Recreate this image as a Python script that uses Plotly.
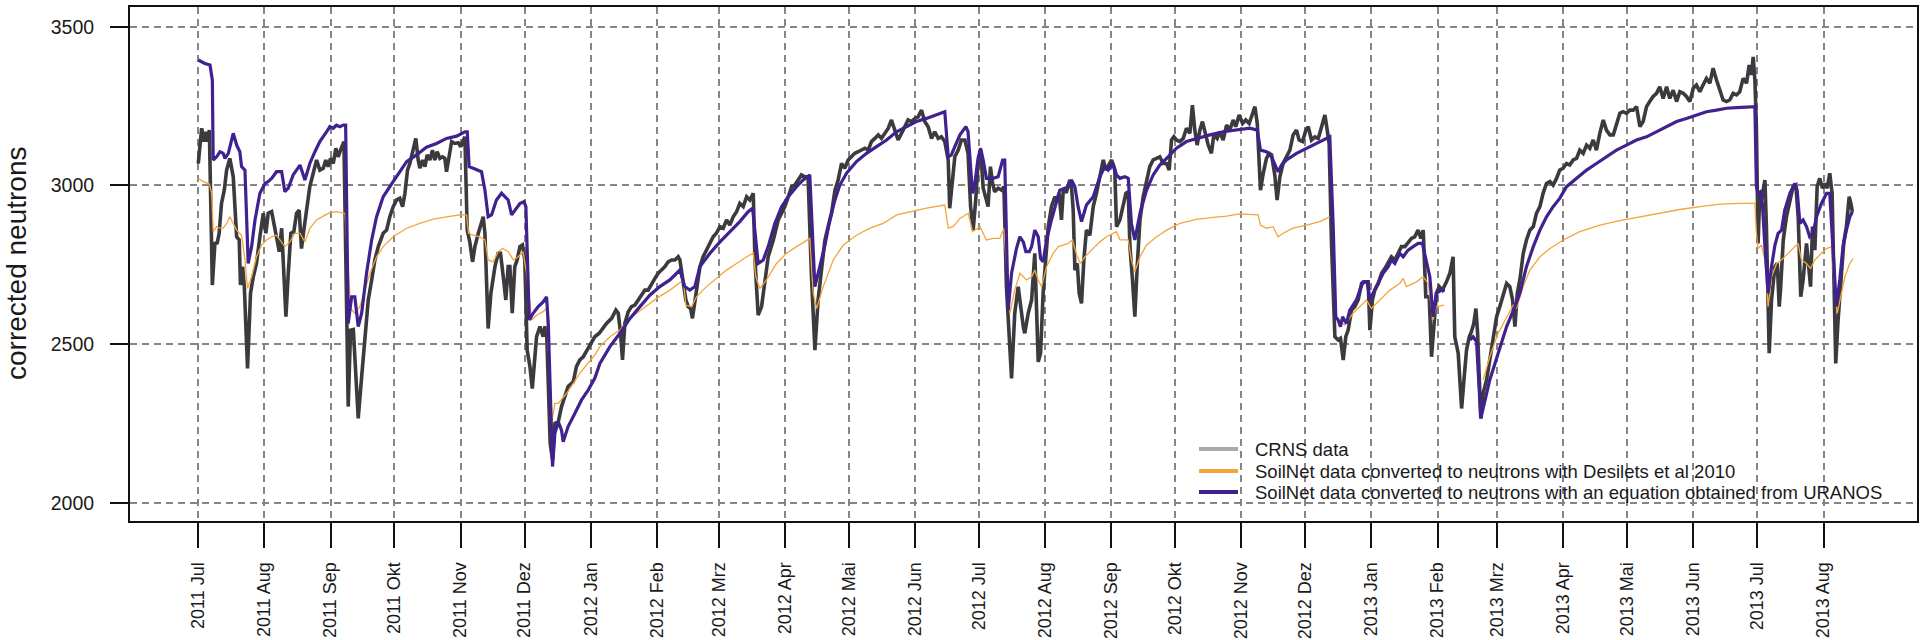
import pandas as pd
import plotly.graph_objects as go

START = pd.Timestamp("2011-07-01")

# ---- data: days since 2011-07-01 ----
crns_days = [0, 1.6, 2.7, 3.6, 4.4, 5.2, 6.6, 7.8, 8.9, 9.8, 10.9, 12.2, 13.3, 14.8, 16.4, 18.0, 19.2, 19.8, 20.8, 21.6,
             23.1, 24.5, 25.8, 27.3, 28.9, 30.5, 31.7, 32.8, 34.4, 35.6, 36.7, 38.0, 39.1, 41.1, 42.2, 43.4, 44.8, 46.1,
             47.3, 48.4, 49.5, 50.8, 52.3, 53.9, 55.5, 57.0, 58.6, 59.8, 60.9, 62.0, 63.3, 64.5, 65.6, 66.7, 67.7, 68.3,
             70.3, 71.4, 72.7, 73.9, 75.0, 76.6, 78.1, 79.7, 81.3, 82.8, 84.4, 86.7, 88.3, 89.8, 91.4, 93.0, 94.5, 95.8,
             96.9, 98.1, 99.2, 100.8, 102.0, 103.1, 103.9, 105.2, 106.3, 107.3, 108.6, 109.8, 110.9, 112.0, 113.3, 114.5,
             115.6, 116.4, 117.7, 118.8, 120.3, 121.9, 123.1, 124.2, 125.0, 126.1, 127.3, 128.6, 129.7, 131.3, 132.3,
             133.6, 134.4, 135.2, 135.9, 137.2, 139.1, 140.6, 141.7, 143.0, 144.2, 145.3, 146.1, 147.2, 148.4, 149.5,
             150.8, 152.0, 153.1, 154.2, 155.5, 156.6, 157.5, 158.6, 160.2, 161.7, 162.5, 163.3, 165.0, 166.1, 167.2,
             168.8, 170.3, 171.9, 173.4, 175.8, 177.3, 178.9, 180.5, 182.3, 183.9, 185.9, 188.0,
             191.4, 193.8, 195.8, 196.9, 198.0, 198.9, 200.0, 201.6, 203.1, 204.7, 206.3, 207.8, 209.4, 210.9, 212.5,
             214.1, 215.6, 217.2, 218.8, 220.3, 221.9, 223.5, 225.0, 225.8, 227.1, 228.6, 229.7, 230.8, 231.7, 232.8,
             233.9, 235.2, 236.7, 238.3, 239.9, 241.4, 242.9, 244.6, 246.1, 247.7, 249.2, 250.8, 252.4, 253.9, 255.5,
             257.1, 258.6, 260.2, 261.0, 262.5, 264.1, 265.6, 267.2, 269.6, 271.9, 273.5, 275.0, 276.6, 278.2, 279.7,
             281.3, 282.8, 284.4, 285.9, 287.5, 289.1, 290.6, 292.2, 293.8, 295.3, 296.9, 298.5, 300.0, 301.6, 303.1,
             304.7, 306.3, 307.8, 309.4, 311.0, 312.5, 314.1, 315.6, 317.2, 318.8, 320.3, 321.9, 323.5, 325.0, 326.6,
             328.1, 329.7, 331.3, 332.8, 334.4, 336.0, 337.5, 339.1, 340.6, 342.2, 343.8, 345.3, 346.9, 348.4, 350.0,
             351.6, 352.3, 353.6, 354.7, 356.3, 357.8, 359.4, 360.9, 362.1, 363.3, 364.5, 365.6, 366.8, 368.0, 369.5,
             370.3, 371.4, 372.4, 373.4, 375.0, 376.6, 377.7, 378.9, 380.2, 381.3, 382.8, 384.4,
             386.8, 387.5, 389.1, 390.7, 392.2, 393.8, 394.9, 396.1, 397.4, 398.5, 400.0, 401.6, 402.7, 403.6, 404.7,
             405.5, 407.1, 408.6, 409.4, 410.2, 411.0, 412.1, 413.0, 414.1, 415.2, 416.4, 418.0, 419.6, 421.1, 422.7,
             424.3, 425.5, 426.6, 428.2, 429.7, 430.5, 432.1, 433.6, 434.9, 436.0, 436.8, 438.0, 439.1, 440.2, 441.5,
             443.0, 444.6, 446.1, 447.7, 449.3, 450.8, 452.4, 454.0, 455.2, 456.3, 457.4, 458.6, 460.2, 461.8, 463.3,
             464.9, 466.1, 467.2, 468.3, 469.6, 470.8, 471.9, 473.5, 475.0, 476.1, 477.7, 478.9, 480.5, 482.1, 483.6,
             485.2, 486.4, 488.0, 489.6, 491.1, 492.7, 494.3, 495.4, 496.5, 497.4, 498.0, 499.3, 500.8, 502.1, 503.2,
             504.7, 505.8, 507.1, 508.6, 510.2, 511.8, 513.3, 514.9, 516.1, 517.7, 519.3, 520.4, 521.9, 523.5, 525.1,
             526.6, 528.2, 529.3, 530.2, 531.3, 532.9, 534.4, 535.5, 536.8, 538.0, 539.1, 540.7, 542.2, 543.8, 545.4,
             546.9, 548.5, 549.3, 550.5, 551.6, 553.2, 554.8, 556.3, 557.9, 559.4, 561.0, 562.5, 564.1, 565.7, 567.2,
             568.8, 570.3, 571.9, 573.2, 574.3, 575.5, 577.1, 578.2, 579.3, 580.5, 581.8, 583.3, 585.2, 586.8, 588.3,
             589.1, 590.7, 592.3, 593.4, 594.6, 595.9, 596.9, 598.0, 599.0, 599.8, 600.5, 601.3, 602.4, 604.0, 605.5,
             607.1, 608.7, 610.2, 611.8, 613.4, 614.9, 616.2, 617.3, 618.4, 619.6, 621.2, 622.7, 624.3, 625.9, 627.4,
             629.0, 630.5, 632.1, 633.7, 635.2, 636.8, 638.3, 639.9, 641.5, 643.0, 644.6, 646.2, 647.7, 649.3, 650.9,
             652.4, 654.0, 655.5, 657.1, 658.7, 660.2, 661.8, 663.4, 664.9, 666.5, 668.0, 669.6, 671.2, 672.7, 674.3,
             675.9, 677.4, 679.0, 680.5, 682.1, 683.7, 685.2, 686.8, 688.4, 689.9, 691.5, 693.1, 694.6, 696.2, 697.7,
             699.3, 700.9, 702.4, 704.0, 705.5, 707.1, 708.7, 710.2, 711.8, 713.4, 714.9, 716.5, 718.0, 719.6, 721.2,
             722.7, 724.3, 725.9, 727.1, 728.2, 729.0, 729.8, 730.5, 731.3, 732.1, 732.9, 733.7, 734.5, 735.2, 736.5,
             737.6, 739.2, 740.3, 741.2, 741.8, 743.1, 744.6, 746.2, 747.7, 749.0, 750.1, 751.3, 752.4, 754.0, 754.9,
             755.9, 756.8, 757.9, 759.0, 760.2, 761.5, 762.6, 763.7, 764.9, 766.0, 767.0, 767.7, 768.8, 770.4, 771.5,
             772.7, 774.0, 774.8, 775.5]
crns_vals = [3069, 3180, 3138, 3169, 3138, 3174, 2686, 2817, 2819, 2849, 2943, 2985, 3048, 3085, 3027, 2838, 2828, 2686, 2744, 2681,
             2423, 2660, 2712, 2754, 2838, 2912, 2849, 2912, 2917, 2870, 2838, 2791, 2865, 2586, 2723, 2849, 2854, 2912,
             2922, 2801, 2859, 2922, 2996, 3038, 3080, 3048, 3054, 3080, 3059, 3085, 3069, 3117, 3090, 3111, 3127, 3138,
             2303, 2544, 2546, 2397, 2266, 2397, 2523, 2639, 2702, 2765, 2807, 2849, 2859, 2901, 2933, 2954, 2959, 2933,
             2975, 3048, 3069, 3111, 3148, 3080, 3054, 3080, 3059, 3096, 3080, 3111, 3080, 3106, 3085, 3090,
             3085, 3043, 3101, 3138, 3132, 3134, 3122, 3143, 3153, 2859, 2822, 2759, 2807, 2849, 2875,
             2901, 2849, 2660, 2549, 2660, 2744, 2786, 2786, 2712, 2639, 2744, 2744, 2597, 2744, 2765,
             2807, 2812, 2765, 2481, 2429, 2360, 2450, 2523, 2555, 2523, 2555, 2544, 2187, 2135, 2250,
             2255, 2303, 2334, 2366, 2381, 2429, 2450, 2460, 2481, 2502, 2523, 2534,
             2565, 2581, 2607, 2597, 2534, 2450, 2565, 2602, 2618, 2623, 2639, 2654, 2670, 2670, 2691,
             2707, 2723, 2733, 2744, 2759, 2765, 2765, 2775, 2765, 2702, 2639, 2618, 2612, 2581, 2639,
             2681, 2744, 2775, 2796, 2822, 2838, 2849, 2870, 2865, 2891, 2875, 2901, 2917, 2943, 2933,
             2964, 2954, 2975, 2765, 2591, 2618, 2702, 2775, 2828, 2891, 2912, 2933, 2964, 2996, 3001,
             3017, 3033, 3027, 3027, 2712, 2481, 2639, 2744, 2828, 2870, 2912, 2985, 3017, 3069, 3054,
             3080, 3090, 3101, 3106, 3111, 3117, 3111, 3138, 3148, 3159, 3148, 3164, 3180, 3206, 3169,
             3143, 3164, 3185, 3206, 3201, 3211, 3216, 3237, 3201, 3185, 3148, 3169, 3148, 3153, 3138,
             3080, 2928, 3027, 3090, 3111, 3143, 3143, 3101, 2933, 2859, 2954, 3069, 3111, 2991, 2954,
             2933, 3059, 3006, 2980, 2991, 2985, 2996, 2681, 2502, 2392, 2597, 2681,
             2555, 2534, 2597, 2639, 2786, 2444, 2471, 2660, 2775, 2870, 2933, 2964, 2954, 2975, 2891,
             2980, 2980, 3017, 2996, 2922, 2733, 2754, 2660, 2628, 2765, 2859, 2843, 2933, 2975, 3027,
             3080, 3048, 3059, 3080, 3048, 2870, 2891, 2933, 2975, 2980, 2807, 2702, 2586, 2744, 2891,
             2964, 3017, 3059, 3080, 3085, 3090, 3069, 3069, 3048, 3143, 3153, 3143, 3138, 3148, 3180,
             3164, 3253, 3174, 3127, 3174, 3201, 3174, 3127, 3101, 3159, 3148, 3169, 3143, 3190, 3174,
             3206, 3185, 3222, 3195, 3206, 3195, 3232, 3248, 3195, 3048, 2985, 3038, 3085, 3101, 3096,
             3033, 2954, 3027, 3069, 3090, 3111, 3159, 3174, 3143, 3138, 3174, 3185, 3143, 3153, 3148,
             3185, 3222, 3174, 3132, 2817, 2523, 2513, 2518, 2450, 2523, 2544, 2607, 2618, 2639, 2691,
             2696, 2696, 2544, 2639, 2670, 2691, 2723, 2738, 2759, 2775, 2765, 2786, 2807, 2807, 2822,
             2833, 2838, 2859, 2833, 2859, 2649, 2649, 2460, 2576, 2660, 2681, 2670, 2696, 2723, 2775,
             2523, 2471, 2297, 2387, 2481, 2523, 2539, 2565, 2612, 2534, 2397, 2266, 2345, 2387, 2450,
             2523, 2586, 2618, 2660, 2691, 2681, 2639, 2555, 2660, 2702, 2786, 2828, 2859, 2870, 2912,
             2933, 2975, 3006, 3012, 3001, 3022, 3048, 3054, 3069, 3064, 3080, 3085, 3111, 3101, 3127,
             3117, 3143, 3111, 3164, 3206, 3174, 3159, 3159, 3190, 3227, 3232, 3227, 3237, 3237, 3248,
             3185, 3201, 3248, 3264, 3280, 3290, 3311, 3274, 3311, 3274, 3300, 3264, 3295, 3290, 3280,
             3264, 3306, 3316, 3295, 3316, 3337, 3322, 3369, 3332, 3295, 3269, 3264, 3269, 3290, 3285,
             3295, 3337, 3322, 3379, 3348, 3405, 3332, 3185, 2817, 2975, 2954, 2996, 3017, 2870, 2471,
             2639, 2744, 2754, 2618, 2670, 2828, 2901, 2954, 2996, 3001, 2901, 2649, 2702, 2817, 2744,
             2681, 2870, 2796, 2996, 3022, 2991, 3006, 2991, 3038, 2975, 2607, 2439, 2576, 2744, 2822,
             2870, 2964, 2943, 2917]

desilets_days = [0, 2.3, 5.2, 6.3, 7.0, 8.6, 10.2, 11.7, 13.3, 14.8, 16.4, 18.0, 20.3, 21.9, 23.1, 25.0, 27.3, 29.7, 32.0,
                 34.4, 36.7, 38.3, 40.6, 43.0, 45.3, 47.7, 50.0, 52.3, 55.5, 58.6, 61.7, 64.8, 68.8,
                 71.4, 73.4, 75.8, 78.1, 80.5, 83.6, 86.7, 91.4, 97.7, 103.9, 110.2, 116.4, 122.7, 125.8, 126.7, 128.9,
                 132.0, 134.4, 135.9, 138.3, 140.6, 142.7, 145.3, 147.7, 150.0, 152.3, 153.9, 156.3, 158.6, 161.7, 163.3,
                 165.6, 167.2, 168.8, 172.7, 175.8, 178.9, 182.0, 185.9,
                 188.3, 193.0, 197.7, 202.4, 208.6, 214.9, 221.1, 227.4, 228.6, 231.3, 233.6, 238.3, 243.0, 247.7, 252.4,
                 257.1, 260.2, 261.4, 263.3, 266.4, 271.1, 275.8, 280.5, 286.7, 288.3, 289.9, 293.0, 297.7, 302.4, 308.6,
                 314.9, 321.1, 327.4, 333.6, 341.4, 350.0, 351.6, 353.9, 357.1, 361.0, 363.0, 366.5, 369.5, 372.7, 375.8,
                 377.7, 379.2, 380.5, 382.8,
                 385.2, 388.3, 390.7, 392.2, 393.8, 395.4, 397.7, 400.8, 403.2, 405.5, 407.9, 409.9, 411.8, 413.6, 415.7,
                 418.8, 422.7, 425.8, 428.9, 430.5, 432.1, 436.0, 437.5, 439.1, 441.5, 444.6, 449.3, 454.0, 460.2, 468.0,
                 475.8, 482.1, 488.3, 494.6, 496.9, 498.0, 500.8, 503.9, 506.3, 508.6, 513.3, 519.6, 525.8, 530.5,
                 532.0,
                 533.5, 537.5, 541.4, 544.6, 547.7, 550.0, 554.0, 558.7, 563.3, 564.9, 566.4, 571.1, 574.3, 576.6, 578.9,
                 580.5, 584.0,
                 593.0,
                 602.4, 605.5, 609.4, 613.4, 616.5, 618.0, 621.2, 624.3, 629.0, 633.7, 639.9, 647.7, 657.1, 666.5, 675.9,
                 685.2, 694.6, 704.0, 713.4, 722.7, 729.8, 730.5, 731.3, 732.9, 734.5, 736.0, 737.6, 740.0, 742.3, 744.6,
                 747.7, 750.1, 751.6, 754.0, 755.9, 757.9, 761.0, 763.4, 765.7, 767.2, 768.4, 769.6, 772.0, 774.3, 775.9]
desilets_vals = [3022, 3012, 3004, 2975, 2854, 2870, 2865, 2865, 2880, 2901, 2880, 2859, 2843, 2765, 2675, 2712, 2775, 2812, 2828,
                 2838, 2843, 2828, 2807, 2822, 2849, 2849, 2822, 2865, 2891, 2903, 2914, 2917, 2912,
                 2612, 2597, 2618, 2670, 2723, 2775, 2807, 2838, 2865, 2880, 2894, 2901, 2907, 2907, 2849, 2843,
                 2838, 2828, 2765, 2759, 2791, 2801, 2791, 2765, 2775, 2791, 2723, 2576, 2591, 2602, 2612,
                 2250, 2313, 2313, 2345, 2376, 2408, 2434, 2465,
                 2492, 2523, 2544, 2581, 2612, 2644, 2670, 2702, 2623, 2618, 2649, 2681, 2707, 2733, 2754,
                 2775, 2786, 2712, 2675, 2702, 2754, 2786, 2807, 2833, 2660, 2612, 2681, 2765, 2812, 2843,
                 2865, 2880, 2907, 2917, 2928, 2938, 2865, 2870, 2896, 2912, 2854, 2870, 2828, 2833, 2833,
                 2865, 2702, 2597, 2670,
                 2723, 2702, 2712, 2733, 2702, 2681, 2744, 2786, 2807, 2812, 2817, 2828, 2781, 2754, 2775,
                 2796, 2822, 2838, 2849, 2854, 2828, 2828, 2765, 2728, 2775, 2812, 2838, 2859, 2880, 2893,
                 2899, 2903, 2910, 2907, 2907, 2875, 2865, 2870, 2838, 2849, 2865, 2875, 2886, 2901,
                 None,
                 2580, 2560, 2597, 2618, 2639, 2612, 2639, 2670, 2691, 2707, 2681, 2696, 2712, 2691, 2576,
                 2618, 2623,
                 None,
                 2387, 2460, 2534, 2586, 2623, 2612, 2681, 2733, 2775, 2801, 2828, 2854, 2875, 2889, 2901,
                 2914, 2924, 2933, 2941, 2943, 2943, 2849, 2801, 2812, 2765, 2618, 2712, 2754, 2765, 2781,
                 2801, 2817, 2765, 2754, 2738, 2765, 2786, 2801, 2807, 2670, 2597, 2639, 2712, 2754, 2770]

uranos_days = [0, 3.1, 5.5, 6.6, 7.0, 8.6, 10.2, 11.7, 12.5, 14.1, 16.4, 18.0, 19.5, 20.3, 21.9, 23.4, 25.0, 26.6, 28.9,
               31.3, 32.8, 34.4, 36.7, 39.1, 40.6, 42.2, 44.5, 47.7, 50.0, 52.3, 54.7, 57.0, 60.2, 61.7, 63.3, 64.8, 66.4,
               68.0, 69.1, 70.3, 71.9, 73.4, 75.0, 76.6, 78.9, 81.3, 83.6, 86.7, 89.8, 93.0, 97.7, 102.3, 107.0, 111.7,
               116.4, 121.1, 125.0, 126.1, 127.0, 128.9, 131.3, 132.8, 134.4, 135.9, 137.5, 139.8, 142.2, 143.8, 145.3,
               146.9, 148.4, 150.8, 152.7, 153.6, 155.2, 157.0, 159.4, 161.7, 163.3, 164.1, 166.1, 167.2, 168.8, 170.3,
               171.1, 173.4, 176.6, 179.7, 182.8, 185.9,
               188.3, 193.0, 197.7, 202.4, 207.1, 211.7, 216.4, 221.1, 225.8, 228.1, 230.5, 232.8, 235.2, 239.9, 244.6,
               249.2, 253.9, 257.8, 259.9, 262.5, 264.9, 267.2, 270.3, 273.5, 276.6, 280.5, 283.6, 286.7, 289.1, 291.4,
               293.8, 296.1, 298.5, 300.8, 303.9, 308.6, 313.3, 318.0, 322.7, 327.4, 332.1, 336.7, 341.4, 346.1, 350.0,
               351.6, 353.1, 354.7, 357.1, 359.9, 360.9, 363.0, 364.1, 365.6, 366.8, 368.0, 369.5, 371.1, 372.7, 375.0,
               377.1, 378.1, 379.7, 381.3, 383.6,
               385.2, 386.8, 388.0, 389.6, 390.7, 392.2, 393.8, 394.9, 396.1, 397.7, 400.0, 402.4, 403.9, 406.3, 407.9,
               409.4, 411.0, 412.5, 414.1, 416.4, 419.6, 422.7, 425.0, 426.6, 428.9, 430.5, 432.1, 434.4, 436.0, 437.5,
               439.1, 441.5, 444.6, 447.7, 450.8, 454.7, 458.6, 463.3, 468.0, 474.3, 480.5, 486.8, 493.0, 496.5, 498.0,
               500.8, 503.2, 505.2, 506.3, 507.9, 510.2, 514.9, 519.6, 524.3, 529.0, 530.5, 532.1, 533.3, 534.4, 535.5,
               536.5, 538.3, 539.9, 541.4, 543.0, 544.6, 546.1, 548.0, 549.3, 550.8, 553.2, 555.5, 557.9, 559.4, 561.0,
               563.3, 564.9, 567.2, 569.6, 571.9, 573.9, 575.8, 577.4, 578.9, 580.5, 582.8, 584.5,
               590.0,
               596.2, 597.7, 599.3, 601.3, 605.5, 609.4, 613.4, 617.3, 619.6, 622.7, 625.9, 629.0, 632.1, 635.2, 638.3,
               641.5, 646.2, 650.9, 655.5, 660.2, 664.9, 669.6, 674.3, 679.0, 683.7, 688.4, 693.1, 697.7, 702.4, 707.1,
               711.8, 716.5, 721.2, 725.9, 729.8, 730.5, 731.3, 732.4, 733.3, 734.5, 736.0, 737.6, 739.2, 740.7, 742.3,
               743.8, 746.2, 748.5, 749.6, 750.9, 752.4, 754.0, 755.5, 757.1, 758.7, 761.0, 763.4, 764.9, 766.5, 768.0,
               769.6, 771.1, 772.7, 774.3, 775.5]
uranos_vals = [3395, 3384, 3379, 3332, 3080, 3090, 3106, 3101, 3085, 3101, 3164, 3127, 3106, 3059, 3048, 2754, 2807, 2891, 2975,
               3006, 3012, 3022, 3043, 3043, 2980, 2991, 3033, 3064, 3017, 3069, 3106, 3138, 3169, 3185, 3180, 3190, 3185,
               3190, 3190, 2565, 2649, 2649, 2555, 2597, 2723, 2828, 2901, 2964, 2996, 3027, 3075, 3096, 3120, 3132,
               3148, 3155, 3169, 3169, 3059, 3054, 3048, 3043, 2985, 2901, 2907, 2954, 2975, 2964, 2954,
               2907, 2922, 2943, 2949, 2933, 2576, 2597, 2618, 2633, 2649, 2565, 2114, 2219, 2255, 2229,
               2192, 2240, 2282, 2324, 2355, 2392,
               2439, 2492, 2534, 2581, 2618, 2654, 2681, 2702, 2733, 2681, 2670, 2681, 2744, 2786, 2822,
               2854, 2886, 2917, 2928, 2754, 2765, 2807, 2880, 2933, 2964, 2996, 3017, 3033, 2681, 2744,
               2812, 2891, 2954, 3001, 3038, 3075, 3101, 3122, 3143, 3169, 3185, 3201, 3211, 3222, 3232,
               3090, 3096, 3122, 3159, 3185, 3169, 2975, 3006, 3085, 3117, 3080, 3022, 3022, 3022, 3027,
               3080, 3080, 2607, 2723, 2801,
               2838, 2822, 2791, 2791, 2807, 2859, 2838, 2770, 2759, 2828, 2891, 2954, 2985, 2991, 2996,
               3017, 2996, 2933, 2886, 2938, 2964, 3027, 3059, 3048, 3069, 3033, 3022, 3027, 3022, 2880,
               2828, 2912, 2985, 3033, 3064, 3090, 3117, 3138, 3148, 3159, 3169, 3174, 3180, 3174, 3111,
               3106, 3090, 3059, 3043, 3064, 3080, 3101, 3117, 3132, 3148, 3153, 2870, 2586, 2576, 2555,
               2586, 2565, 2607, 2623, 2639, 2670, 2696, 2696, 2639, 2660, 2691, 2723, 2744, 2765, 2754,
               2786, 2775, 2796, 2807, 2817, 2817, 2765, 2712, 2586, 2660, 2670, 2670,
               None,
               2513, 2523, 2507, 2266, 2387, 2471, 2555, 2618, 2660, 2744, 2807, 2859, 2901, 2933, 2959,
               2996, 3022, 3048, 3069, 3090, 3111, 3127, 3143, 3153, 3169, 3185, 3201, 3211, 3222, 3232,
               3237, 3243, 3245, 3248, 3248, 2996, 2975, 2980, 2943, 2807, 2660, 2744, 2812, 2849, 2859,
               2922, 2975, 3006, 2985, 2880, 2891, 2870, 2838, 2849, 2901, 2943, 2975, 2975, 2807, 2618,
               2702, 2807, 2859, 2901, 2917]

tick_dates = ["2011-07-01", "2011-08-01", "2011-09-01", "2011-10-01", "2011-11-01", "2011-12-01",
              "2012-01-01", "2012-02-01", "2012-03-01", "2012-04-01", "2012-05-01", "2012-06-01",
              "2012-07-01", "2012-08-01", "2012-09-01", "2012-10-01", "2012-11-01", "2012-12-01",
              "2013-01-01", "2013-02-01", "2013-03-01", "2013-04-01", "2013-05-01", "2013-06-01",
              "2013-07-01", "2013-08-01"]
tick_labels = ["2011 Jul", "2011 Aug", "2011 Sep", "2011 Okt", "2011 Nov", "2011 Dez",
               "2012 Jan", "2012 Feb", "2012 Mrz", "2012 Apr", "2012 Mai", "2012 Jun",
               "2012 Jul", "2012 Aug", "2012 Sep", "2012 Okt", "2012 Nov", "2012 Dez",
               "2013 Jan", "2013 Feb", "2013 Mrz", "2013 Apr", "2013 Mai", "2013 Jun",
               "2013 Jul", "2013 Aug"]
y_ticks = [2000, 2500, 3000, 3500]

legend_names = ["CRNS data",
                "SoilNet data converted to neutrons with Desilets et al 2010",
                "SoilNet data converted to neutrons with an equation obtained from URANOS"]
legend_colors = ["#a9a8ab", "#f4a53a", "#3f2190"]

FONT = "Liberation Sans, Arial, Helvetica, sans-serif"


def to_dates(days):
    return [START + pd.Timedelta(days=d) for d in days]


fig = go.Figure()
fig.add_trace(go.Scatter(x=to_dates(crns_days), y=crns_vals, mode="lines",
                         line=dict(color="#3b3a3e", width=3.6), showlegend=False, connectgaps=False))
fig.add_trace(go.Scatter(x=to_dates(desilets_days), y=desilets_vals, mode="lines",
                         line=dict(color="#f4a53a", width=1.3), showlegend=False, connectgaps=False))
fig.add_trace(go.Scatter(x=to_dates(uranos_days), y=uranos_vals, mode="lines",
                         line=dict(color="#3f2190", width=3.2), showlegend=False, connectgaps=False))

W, H = 1920, 640
L, R, T, B = 130, 3, 7, 119
pw, ph = W - L - R, H - T - B


def px(xp):
    return (xp - L) / pw


def py(yp):
    return (H - B - yp) / ph


# manual legend (bottom-right, no box)
leg_rows = [449, 471, 492]
for name, col, yy in zip(legend_names, legend_colors, leg_rows):
    fig.add_shape(type="line", xref="paper", yref="paper",
                  x0=px(1199), x1=px(1238), y0=py(yy), y1=py(yy),
                  line=dict(color=col, width=4))
    fig.add_annotation(xref="paper", yref="paper", x=px(1253), y=py(yy),
                       text=name, showarrow=False, xanchor="left", yanchor="middle",
                       font=dict(family=FONT, size=18.5, color="#1a1a1a"))

# y-axis title
fig.add_annotation(xref="paper", yref="paper", x=px(16), y=0.5, text="corrected neutrons",
                   textangle=-90, showarrow=False, xanchor="center", yanchor="middle",
                   font=dict(family=FONT, size=28, color="#1a1a1a"))

grid_col = "#858585"
fig.update_layout(
    width=W, height=H,
    margin=dict(l=L, r=R, t=T, b=B, pad=0, autoexpand=False),
    paper_bgcolor="white", plot_bgcolor="white",
    showlegend=False,
    font=dict(family=FONT, color="#1a1a1a"),
)
fig.update_xaxes(
    type="date", automargin=False,
    range=[START + pd.Timedelta(days=-32.0), START + pd.Timedelta(days=805.8)],
    tickmode="array", tickvals=tick_dates, ticktext=tick_labels, tickangle=-90,
    ticks="outside", ticklen=25, tickwidth=1.6, tickcolor="#111",
    tickfont=dict(family=FONT, size=18, color="#1a1a1a"),
    ticklabelstandoff=7,
    showgrid=True, gridcolor=grid_col, gridwidth=1.5, griddash="7px,5px",
    showline=True, linecolor="#111", linewidth=2, mirror=True,
    zeroline=False,
)
fig.update_yaxes(
    automargin=False,
    range=[1942.5, 3562],
    tickmode="array", tickvals=y_ticks, ticktext=[str(v) for v in y_ticks],
    ticks="outside", ticklen=18, tickwidth=1.6, tickcolor="#111",
    tickfont=dict(family=FONT, size=19.5, color="#1a1a1a"),
    ticklabelstandoff=12,
    showgrid=True, gridcolor=grid_col, gridwidth=1.5, griddash="7px,5px",
    showline=True, linecolor="#111", linewidth=2, mirror=True,
    zeroline=False,
)

fig.write_html("out.html",
               config={"displayModeBar": False},
               post_script="document.body.style.margin='0';document.body.style.padding='0';"
                           "document.body.style.overflow='hidden';")
